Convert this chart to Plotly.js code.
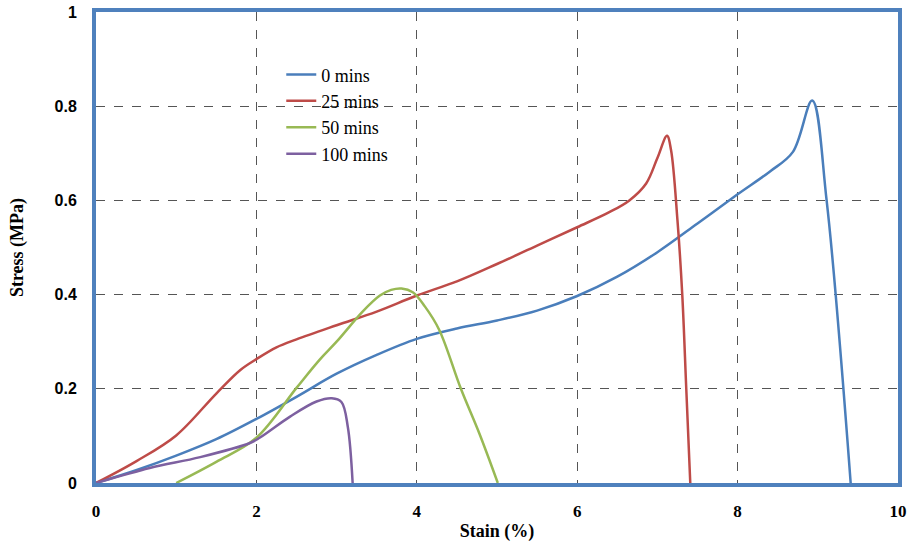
<!DOCTYPE html>
<html>
<head>
<meta charset="utf-8">
<script src="https://cdn.plot.ly/plotly-3.0.1.min.js"></script>
<style>html,body{margin:0;padding:0;background:#fff;}#chart{width:912px;height:544px;}</style>
</head>
<body>
<div id="chart"></div>
<script>
// Series names
const seriesNames = ["0 mins", "25 mins", "50 mins", "100 mins"];

// 0 mins
const strain0 = [0, 0.5, 1, 1.5, 2, 2.5, 3, 3.5, 4, 4.5, 5, 5.5, 6, 6.5, 7, 7.5, 8, 8.4, 8.69, 8.93, 9.11, 9.41];
const stress0 = [0, 0.027, 0.058, 0.093, 0.136, 0.183, 0.232, 0.272, 0.306, 0.328, 0.345, 0.366, 0.397, 0.438, 0.490, 0.551, 0.613, 0.661, 0.703, 0.812, 0.600, 0];

// 25 mins
const strain25 = [0, 0.5, 1, 1.5, 1.8, 2, 2.25, 2.5, 3, 3.5, 4, 4.5, 5, 5.5, 6, 6.4, 6.65, 6.86, 7.0, 7.12, 7.17, 7.25, 7.31, 7.36, 7.41];
const stress25 = [0, 0.046, 0.101, 0.190, 0.240, 0.263, 0.288, 0.305, 0.335, 0.364, 0.398, 0.428, 0.465, 0.504, 0.543, 0.575, 0.600, 0.636, 0.690, 0.737, 0.707, 0.558, 0.400, 0.200, 0];

// 50 mins
const strain50 = [1.0, 1.5, 2.0, 2.5, 2.79, 3.0, 3.33, 3.54, 3.68, 3.81, 3.95, 4.1, 4.28, 4.55, 4.78, 5.01];
const stress50 = [0, 0.045, 0.096, 0.202, 0.262, 0.300, 0.365, 0.398, 0.410, 0.413, 0.405, 0.375, 0.325, 0.200, 0.105, 0];

// 100 mins
const strain100 = [0, 0.67, 1.30, 1.92, 2.04, 2.42, 2.75, 2.94, 3.06, 3.14, 3.20];
const stress100 = [0, 0.032, 0.055, 0.085, 0.096, 0.141, 0.173, 0.180, 0.172, 0.119, 0];

// Axis ticks
const xTicks = [0, 2, 4, 6, 8, 10];
const yTicks = [0, 0.2, 0.4, 0.6, 0.8, 1];
const yTickText = ["0", "0.2", "0.4", "0.6", "0.8", "1"];

const colors = ["#4a7ebb", "#be4b48", "#98b954", "#7d60a0"];
const xs = [strain0, strain25, strain50, strain100];
const ys = [stress0, stress25, stress50, stress100];

const traces = seriesNames.map((n, i) => ({
  x: xs[i], y: ys[i], name: n, type: "scatter", mode: "lines",
  line: {color: colors[i], width: 2.5, shape: "spline", smoothing: 1},
  cliponaxis: true
}));

const layout = {
  width: 912, height: 544,
  margin: {l: 96, r: 14, t: 12, b: 61},
  paper_bgcolor: "#fff", plot_bgcolor: "#fff",
  showlegend: true,
  legend: {
    x: 0.231, y: 0.906, xanchor: "left", yanchor: "top",
    bgcolor: "rgba(0,0,0,0)", borderwidth: 0,
    font: {family: "Liberation Serif", size: 18, color: "#000"},
    itemwidth: 30, tracegroupgap: 0
  },
  xaxis: {
    range: [0, 10], tickvals: xTicks, ticktext: xTicks.map(String),
    showgrid: true, gridcolor: "#555", gridwidth: 1, griddash: "dash",
    zeroline: false, showline: true, mirror: true, linecolor: "#4f81bd", linewidth: 4,
    ticks: "outside", ticklen: 10, tickcolor: "rgba(0,0,0,0)",
    tickfont: {family: "Liberation Serif", size: 17, color: "#000", weight: "bold"},
    title: {text: "Stain (%)", font: {family: "Liberation Serif", size: 18, color: "#000", weight: "bold"}, standoff: 5}
  },
  yaxis: {
    range: [0, 1], tickvals: yTicks, ticktext: yTickText,
    showgrid: true, gridcolor: "#555", gridwidth: 1, griddash: "dash",
    zeroline: false, showline: true, mirror: true, linecolor: "#4f81bd", linewidth: 4,
    ticks: "outside", ticklen: 12, tickcolor: "rgba(0,0,0,0)",
    tickfont: {family: "Liberation Sans", size: 16, color: "#000", weight: "bold"},
    title: {text: "Stress (MPa)", font: {family: "Liberation Serif", size: 18, color: "#000", weight: "bold"}, standoff: 27}
  }
};

Plotly.newPlot("chart", traces, layout, {displayModeBar: false, staticPlot: true});
</script>
</body>
</html>
